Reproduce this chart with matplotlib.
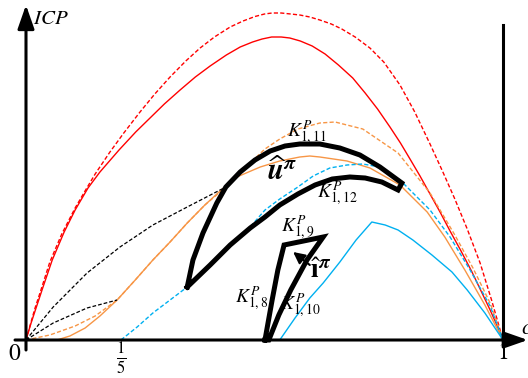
import numpy as np
import matplotlib.pyplot as plt

plt.rcParams['mathtext.fontset'] = 'stix'

# ICP curves against c (x in [0, 1])
red_dash_x = [0, .010, .019, .030, .050, .075, .103, .125, .145, .176, .205, .239, .270, .302, .335, .365, .395, .428,
              .455, .480, .500, .516, .535, .555, .574, .595, .616, .640, .662, .690, .721, .750, .784, .815, .847,
              .873, .899, .925, .952, .976, 1.0]
red_dash_y = [0, .17, .32, .48, .78, 1.06, 1.32, 1.50, 1.66, 1.88, 2.07, 2.28, 2.46, 2.63, 2.79, 2.92, 3.03, 3.13,
              3.19, 3.235, 3.26, 3.27, 3.27, 3.26, 3.25, 3.23, 3.20, 3.16, 3.11, 3.03, 2.92, 2.78, 2.55, 2.28, 1.96,
              1.69, 1.41, 1.11, 0.77, 0.40, 0]

red_x = [0, .010, .019, .035, .055, .080, .103, .130, .155, .195, .230, .260, .290, .323, .355, .386, .420, .449,
         .475, .495, .515, .535, .553, .575, .600, .627, .655, .685, .711, .737, .763, .785, .805, .826, .847, .868,
         .889, .912, .935, .955, .973, .987, 1.0]
red_y = [0, .16, .29, .52, .80, 1.08, 1.30, 1.52, 1.68, 1.90, 2.08, 2.22, 2.36, 2.50, 2.63, 2.74, 2.85, 2.93,
         2.98, 3.01, 3.03, 3.03, 3.02, 2.99, 2.94, 2.86, 2.75, 2.62, 2.47, 2.31, 2.13, 1.97, 1.81, 1.64, 1.46, 1.28,
         1.09, 0.89, 0.68, 0.48, 0.30, 0.15, 0]

orange_x = [.065, .092, .124, .155, .191, .229, .266, .302, .338, .375, .407, .442, .491, .532, .574, .595, .616,
            .673, .721, .784, .841, .878, .920, .962, 1.0]
orange_y = [0, .04, .12, .24, .40, .60, .80, .98, 1.17, 1.35, 1.49, 1.63, 1.73, 1.79, 1.83, 1.84, 1.83,
            1.79, 1.72, 1.55, 1.28, 1.03, 0.70, 0.35, 0]

orange_dash_x = [0, .050, .103, .145, .191, .229, .266, .302, .338, .375, .419, .463, .501, .532, .570, .616, .648,
                 .706, .780, .847, .899, .937, .973, 1.0]
orange_dash_y = [0, .05, .14, .24, .40, .60, .80, .98, 1.17, 1.35, 1.53, 1.74, 1.91, 2.01, 2.11, 2.17, 2.18,
                 2.11, 1.87, 1.47, 1.05, 0.72, 0.37, 0]

blue_dash_x = [.199, .233, .266, .302, .338, .386, .428, .470, .501, .532, .570, .602, .637, .673, .706, .742, .784,
               .847, .889, .931, .973, 1.0]
blue_dash_y = [0, .13, .27, .40, .53, .74, .94, 1.13, 1.30, 1.41, 1.53, 1.64, 1.72, 1.75, 1.76, 1.73, 1.60,
               1.30, 1.03, 0.70, 0.34, 0]

blue_x = [.532, .564, .595, .623, .658, .692, .725, .753, .780, .811, .851, .893, .925, .962, 1.0]
blue_y = [0, .22, .42, .57, .78, 1.00, 1.18, 1.15, 1.10, 1.00, .85, .68, .50, .27, 0]

# black dashed chords from the origin
chord1_x = [0, .057, .128, .197, .266, .338, .419]
chord1_y = [0, .33, .67, .93, 1.15, 1.33, 1.53]
chord2_x = [0, .057, .128, .191]
chord2_y = [0, .17, .32, .40]

# region u^pi : left edge, K_{1,11} (top), K_{1,12} (bottom)
u_x = [.338, .350, .371, .400, .419,
       .449, .480, .512, .543, .574, .616, .658, .700, .742, .788,
       .780, .746, .711, .679, .642, .606, .570, .532, .501, .470, .428, .386, .338]
u_y = [.53, .80, 1.07, 1.37, 1.53,
       1.68, 1.80, 1.89, 1.94, 1.96, 1.96, 1.92, 1.85, 1.73, 1.57,
       1.50, 1.58, 1.62, 1.63, 1.61, 1.55, 1.46, 1.35, 1.23, 1.12, .95, .75, .53]

# region i^pi : K_{1,8}, K_{1,9}, K_{1,10}
i_x = [.501, .516, .528, .541, .623, .589, .555, .530, .509, .501]
i_y = [0, .40, .70, .95, 1.03, .80, .50, .25, 0, 0]

RED = '#FF0000'
ORANGE = '#F79646'
BLUE = '#00B0F0'
dash = (0, (3, 1.6))

fig = plt.figure(figsize=(5.28, 3.78), dpi=100)
ax = fig.add_axes([0, 0, 1, 1])
ax.set_xlim(-0.0545, 1.0524)
ax.set_ylim(-0.38, 3.40)
ax.axis('off')

ax.plot(red_dash_x, red_dash_y, color=RED, lw=1.0, ls=dash)
ax.plot(red_x, red_y, color=RED, lw=1.0)
ax.plot(orange_dash_x, orange_dash_y, color=ORANGE, lw=1.0, ls=dash)
ax.plot(orange_x, orange_y, color=ORANGE, lw=1.0)
ax.plot(blue_dash_x, blue_dash_y, color=BLUE, lw=1.0, ls=dash)
ax.plot(blue_x, blue_y, color=BLUE, lw=1.0)
ax.plot(chord1_x, chord1_y, color='k', lw=0.9, ls=dash)
ax.plot(chord2_x, chord2_y, color='k', lw=0.9, ls=dash)

ax.plot(u_x, u_y, color='k', lw=3.6, solid_joinstyle='miter')
ax.plot(i_x, i_y, color='k', lw=3.6, solid_joinstyle='miter')

# axes with arrow heads
arrow = dict(arrowstyle='-|>,head_length=0.8,head_width=0.28', lw=2.2,
             color='k', shrinkA=0, shrinkB=0, mutation_scale=18)
ax.annotate('', xy=(0, 3.35), xytext=(0, -0.10), arrowprops=arrow)
ax.annotate('', xy=(1.052, 0), xytext=(-0.023, 0), arrowprops=arrow)
ax.plot([1, 1], [0, 3.15], color='k', lw=2.2)

# small arrow inside i^pi
ax.annotate('', xy=(.560, .88), xytext=(.595, .75),
            arrowprops=dict(arrowstyle='-|>,head_length=0.5,head_width=0.25',
                            lw=1.5, color='k', shrinkA=0, shrinkB=0, mutation_scale=14))

ax.text(.015, 3.22, '$ICP$', fontsize=15, ha='left', va='center')
ax.text(-.023, -.13, '$0$', fontsize=17, ha='center', va='center')
ax.text(.199, -.18, r'$\frac{1}{5}$', fontsize=17, ha='center', va='center')
ax.text(1.0, -.12, '$1$', fontsize=17, ha='center', va='center')
ax.text(1.037, .12, '$c$', fontsize=16, ha='left', va='center')

ax.text(.589, 2.08, '$K_{1,11}^{P}$', fontsize=14, ha='center', va='center')
ax.text(.652, 1.47, '$K_{1,12}^{P}$', fontsize=14, ha='center', va='center')
ax.text(.570, 1.13, '$K_{1,9}^{P}$', fontsize=14, ha='center', va='center')
ax.text(.472, .42, '$K_{1,8}^{P}$', fontsize=14, ha='center', va='center')
ax.text(.574, .35, '$K_{1,10}^{P}$', fontsize=14, ha='center', va='center')
ax.text(.537, 1.68, r'$\widehat{\boldsymbol{u}}^{\boldsymbol{\pi}}$', fontsize=21, ha='center', va='center')
ax.text(.618, .70, r'$\hat{\boldsymbol{\imath}}^{\boldsymbol{\pi}}$', fontsize=20, ha='center', va='center')

fig.savefig('out.png', dpi=100)
